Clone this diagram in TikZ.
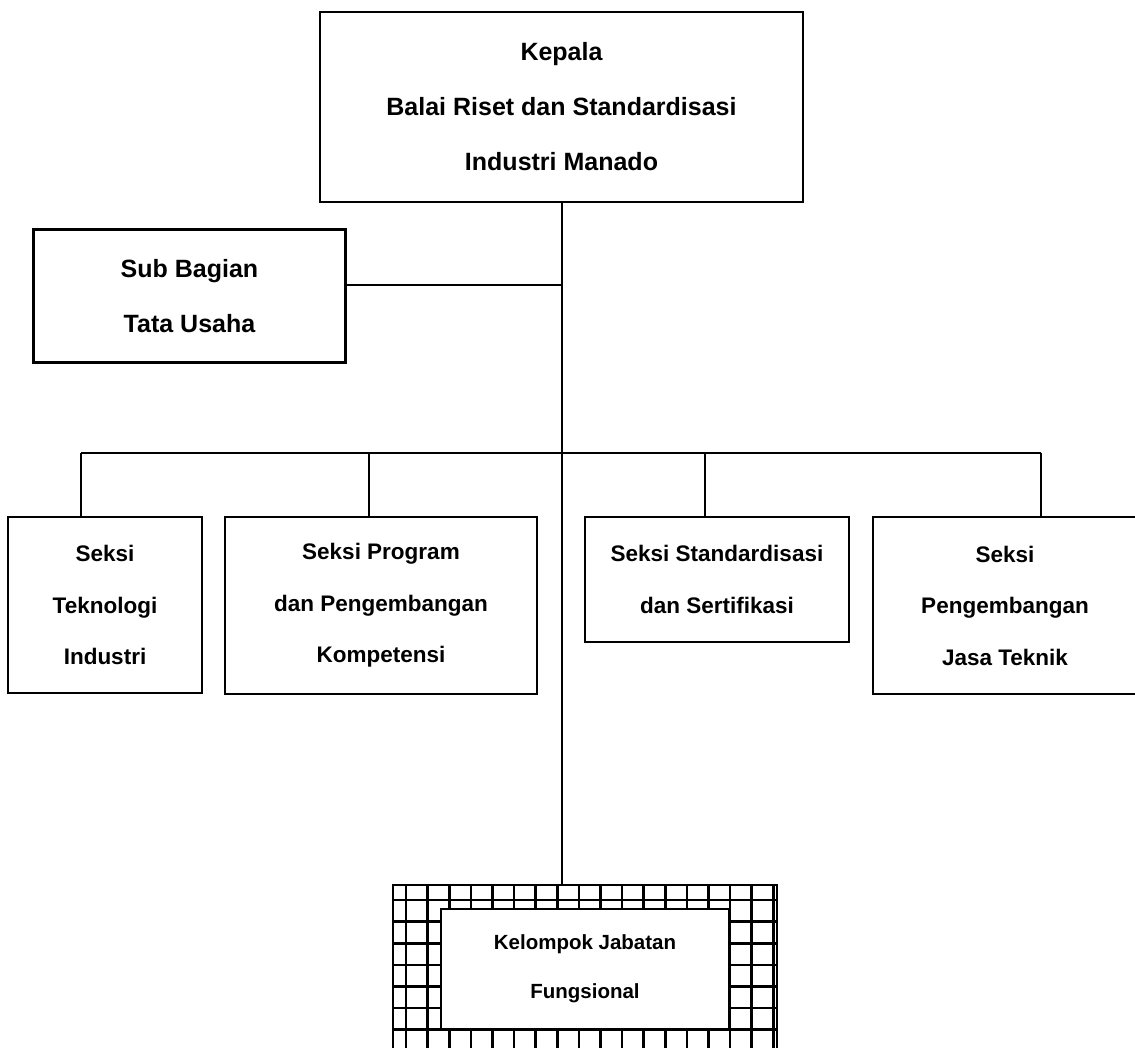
\documentclass[tikz,border=0pt]{standalone}
\usepackage{fontspec}
\setmainfont{Liberation Sans}
\begin{document}
\begin{tikzpicture}[x=1pt,y=-1pt,
  box/.style={draw=black, line width=2.2pt, fill=white, inner sep=0pt, align=center},
  bigtext/.style={font=\fontsize{25}{55}\selectfont\bfseries},
  sectext/.style={font=\fontsize{22.5}{51.5}\selectfont\bfseries},
  smalltext/.style={font=\fontsize{20.5}{49}\selectfont\bfseries},
  conn/.style={draw=black, line width=2pt},
  gridline/.style={draw=black, line width=2.6pt}]
\useasboundingbox (0,0) rectangle (1135,1048);
\clip (0,0) rectangle (1135,1048);

% top box
\node[box, bigtext, minimum width=483, minimum height=190] (kepala) at (561.5,107)
  {Kepala\\Balai Riset dan Standardisasi\\Industri Manado};
% sub bagian
\node[box, bigtext, minimum width=312, minimum height=133] (sub) at (189.5,296)
  {Sub Bagian\\Tata Usaha};
% sections
\node[box, sectext, minimum width=194, minimum height=176] (tek) at (105,605)
  {Seksi\\Teknologi\\Industri};
\node[box, sectext, minimum width=312, minimum height=177] (prog) at (381,605.5)
  {Seksi Program\\dan Pengembangan\\Kompetensi};
\node[box, sectext, minimum width=264, minimum height=125] (std) at (717,579.5)
  {Seksi Standardisasi\\dan Sertifikasi};
\node[box, sectext, minimum width=264, minimum height=177] (peng) at (1005,605.5)
  {Seksi\\Pengembangan\\Jasa Teknik};

% grid (hatched) frame
\node[draw=black, line width=2.2pt, inner sep=0pt, minimum width=384, minimum height=175] (grid) at (585,972.5) {};
\begin{scope}
  \clip (393,885) rectangle (777,1060);
  \foreach \i in {0,...,17} \draw[gridline] (406+21.6*\i,885) -- (406+21.6*\i,1060);
  \foreach \j in {0,...,7} \draw[gridline] (393,900+21.6*\j) -- (777,900+21.6*\j);
\end{scope}
\node[box, smalltext, minimum width=288, minimum height=120] (fung) at (585,969)
  {Kelompok Jabatan\\Fungsional};

% connectors
\coordinate (sj) at (561.5,285);
\coordinate (bus) at (561.5,453);
\coordinate (d1) at (81,453);
\coordinate (d2) at (369,453);
\coordinate (d3) at (705,453);
\coordinate (d4) at (1041,453);

\draw[conn] (kepala.south) -- (kepala.south |- grid.north);
\draw[conn] (sub.east |- sj) -- (sj);
\draw[conn] (d1) -- (d4);
\draw[conn] (d1) -- (d1 |- tek.north);
\draw[conn] (d2) -- (d2 |- prog.north);
\draw[conn] (d3) -- (d3 |- std.north);
\draw[conn] (d4) -- (d4 |- peng.north);
\end{tikzpicture}
\end{document}
